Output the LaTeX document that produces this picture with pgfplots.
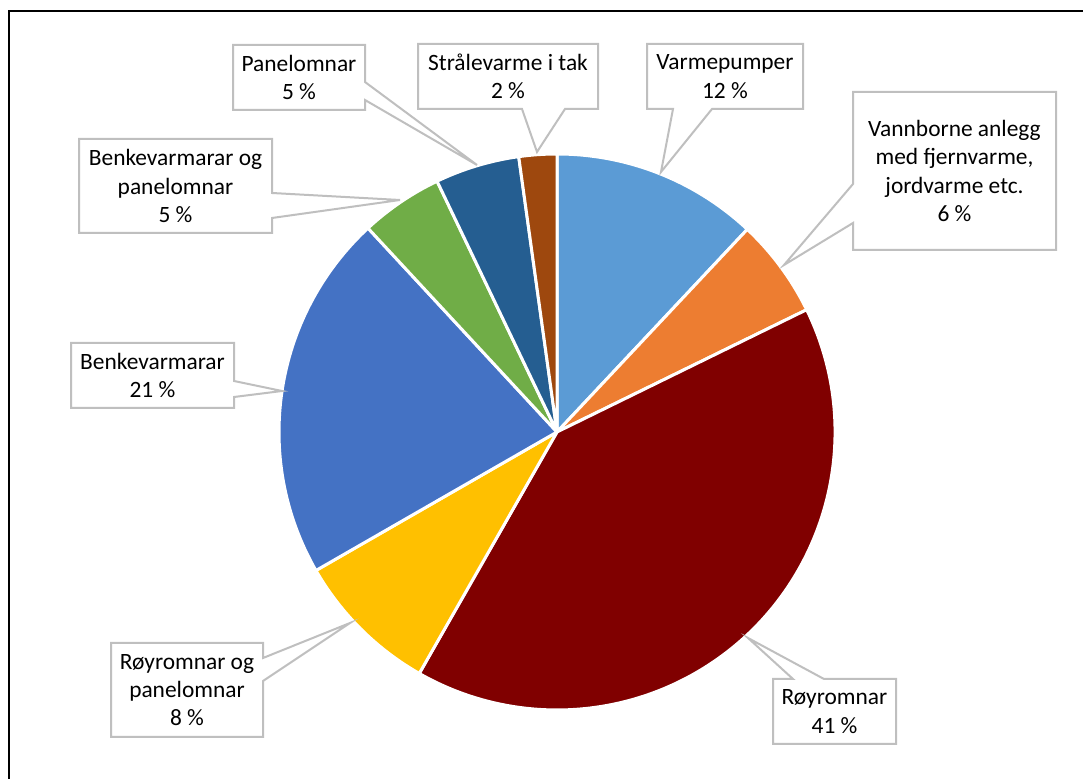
\documentclass[border=0pt]{standalone}
\usepackage{pgfplots}
\pgfplotsset{compat=1.18}
\usepackage{fontspec}
\setmainfont{Carlito}
\definecolor{cVarme}{HTML}{5B9BD5}
\definecolor{cVann}{HTML}{ED7D31}
\definecolor{cRoy}{HTML}{800000}
\definecolor{cRoyP}{HTML}{FFC000}
\definecolor{cBenk}{HTML}{4472C4}
\definecolor{cBenkP}{HTML}{70AD47}
\definecolor{cPanel}{HTML}{255E91}
\definecolor{cStraale}{HTML}{9E480E}
\definecolor{cBox}{HTML}{BFBFBF}
% slice: colour, start percent, end percent (clockwise from 12 o'clock)
\newcommand\slice[3]{\fill[#1, draw=white, line width=1.5pt, line join=round]
  (axis cs:557,432) -- ++({90-3.6*#2}:139pt)
  arc[start angle={90-3.6*#2}, end angle={90-3.6*#3}, radius=139pt] -- cycle;}
\newcommand\lbl[3]{\node[align=center, inner sep=0pt, font=\fontsize{11.7}{14.2}\selectfont] at (axis cs:#1,#2) {#3};}
\tikzset{callout/.style={fill=white, draw=cBox, line width=1pt, line join=miter}}
\begin{document}
\begin{tikzpicture}
\useasboundingbox (0,0) rectangle (541.5pt,389.5pt);
\begin{axis}[
  at={(0,0)}, anchor=south west,
  scale only axis, width=541.5pt, height=389.5pt,
  xmin=0, xmax=1083, ymin=0, ymax=779, y dir=reverse,
  hide axis, clip=false]
% outer frame (cropped)
\draw[black, line width=1pt] (axis cs:8.5,779) -- (axis cs:8.5,11) -- (axis cs:1083,11);
% pie shares (percent): Varmepumper 12, Vannborne 5.75, Royromnar 40.5,
% Royromnar og panelomnar 8.45, Benkevarmarar 21.4, Benkevarmarar og panelomnar 4.8,
% Panelomnar 4.9, Straalevarme 2.2  (cumulative below)
\slice{cVarme}{0}{12}
\slice{cVann}{12}{17.75}
\slice{cRoy}{17.75}{58.25}
\slice{cRoyP}{58.25}{66.7}
\slice{cBenk}{66.7}{88.1}
\slice{cBenkP}{88.1}{92.9}
\slice{cPanel}{92.9}{97.8}
\slice{cStraale}{97.8}{100}
% callouts
\draw[callout] (axis cs:233,45) -- (axis cs:365,45) -- (axis cs:365,82) -- (axis cs:477,165) -- (axis cs:365,100) -- (axis cs:365,110) -- (axis cs:233,110) -- cycle;
\lbl{299}{77.5}{Panelomnar\\5 \%}
\draw[callout] (axis cs:418,44) -- (axis cs:598,44) -- (axis cs:598,109) -- (axis cs:565,109) -- (axis cs:537,152) -- (axis cs:522,109) -- (axis cs:418,109) -- cycle;
\lbl{508}{76.5}{Strålevarme i tak\\2 \%}
\draw[callout] (axis cs:647,44) -- (axis cs:803,44) -- (axis cs:803,109) -- (axis cs:712,109) -- (axis cs:661,172) -- (axis cs:673,109) -- (axis cs:647,109) -- cycle;
\lbl{725}{76.5}{Varmepumper\\12 \%}
\draw[callout] (axis cs:853,92) -- (axis cs:1056,92) -- (axis cs:1056,250) -- (axis cs:853,250) -- (axis cs:853,223) -- (axis cs:784,265) -- (axis cs:853,184) -- cycle;
\lbl{954.5}{171}{Vannborne anlegg\\med fjernvarme,\\jordvarme etc.\\6 \%}
\draw[callout] (axis cs:111,643) -- (axis cs:263,643) -- (axis cs:263,658) -- (axis cs:350,623) -- (axis cs:263,681) -- (axis cs:263,737) -- (axis cs:111,737) -- cycle;
\lbl{187}{690}{Røyromnar og\\panelomnar\\8 \%}
\draw[callout] (axis cs:773,679) -- (axis cs:793,679) -- (axis cs:748,638) -- (axis cs:824,679) -- (axis cs:896,679) -- (axis cs:896,744) -- (axis cs:773,744) -- cycle;
\lbl{834.5}{711.5}{Røyromnar\\41 \%}
\draw[callout] (axis cs:71,343) -- (axis cs:234,343) -- (axis cs:234,381) -- (axis cs:282,391) -- (axis cs:234,397) -- (axis cs:234,408) -- (axis cs:71,408) -- cycle;
\lbl{152.5}{375.5}{Benkevarmarar\\21 \%}
\draw[callout] (axis cs:79,139) -- (axis cs:272,139) -- (axis cs:272,193) -- (axis cs:400,200) -- (axis cs:272,218) -- (axis cs:272,233) -- (axis cs:79,233) -- cycle;
\lbl{175.5}{186}{Benkevarmarar og\\panelomnar\\5 \%}
\end{axis}
\end{tikzpicture}
\end{document}
